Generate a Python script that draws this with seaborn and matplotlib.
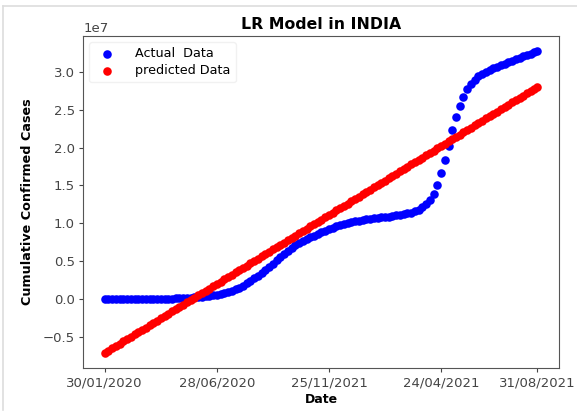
import matplotlib
matplotlib.use("Agg")
import matplotlib.pyplot as plt
import seaborn as sns
import pandas as pd
from matplotlib.lines import Line2D

# Day index since 30/01/2020 (sampled every 5 days, last = 31/08/2021)
days = list(range(0, 576, 5)) + [579]

# Actual cumulative confirmed cases (units of 1e7)
actual = [
    0.0, 0.0, 0.0, 0.0, 0.0, 0.0, 0.0, 0.0, 0.0001, 0.0001,
    0.0002, 0.0003, 0.0004, 0.0005, 0.0006, 0.0008, 0.0012, 0.0020, 0.0032, 0.0047,
    0.0062, 0.0082, 0.0106, 0.0137, 0.0173, 0.0212, 0.0257, 0.0313, 0.0381, 0.0456,
    0.0549, 0.0642, 0.0743, 0.0878, 0.1039, 0.1238, 0.1483, 0.1750, 0.2027, 0.2330,
    0.2702, 0.3045, 0.3388, 0.3770, 0.4204, 0.4660, 0.5120, 0.5560, 0.5990, 0.6390,
    0.6760, 0.7080, 0.7370, 0.7650, 0.7910, 0.8140, 0.8360, 0.8590, 0.8820, 0.9030,
    0.9220, 0.9420, 0.9610, 0.9770, 0.9910, 1.0040, 1.0150, 1.0250, 1.0340, 1.0430,
    1.0510, 1.0580, 1.0650, 1.0720, 1.0780, 1.0830, 1.0890, 1.0960, 1.1030, 1.1110,
    1.1210, 1.1300, 1.1410, 1.1580, 1.1790, 1.2100, 1.2490, 1.3060, 1.3870, 1.5060,
    1.6610, 1.8380, 2.0280, 2.2300, 2.4050, 2.5500, 2.6700, 2.7700, 2.8400, 2.9000,
    2.9440, 2.9770, 3.0030, 3.0270, 3.0500, 3.0700, 3.0900, 3.1100, 3.1300, 3.1500,
    3.1700, 3.1900, 3.2100, 3.2250, 3.2400, 3.2600, 3.2800,
]

# Linear regression predictions (units of 1e7)
predicted = [
    -0.715, -0.685, -0.654, -0.624, -0.593, -0.563, -0.533, -0.502, -0.472, -0.441,
    -0.411, -0.381, -0.350, -0.320, -0.289, -0.259, -0.229, -0.198, -0.168, -0.137,
    -0.107, -0.077, -0.046, -0.016, 0.015, 0.045, 0.075, 0.106, 0.136, 0.167,
    0.197, 0.227, 0.258, 0.288, 0.319, 0.349, 0.379, 0.410, 0.440, 0.471,
    0.501, 0.531, 0.562, 0.592, 0.623, 0.653, 0.683, 0.714, 0.744, 0.775,
    0.805, 0.835, 0.866, 0.896, 0.927, 0.957, 0.987, 1.018, 1.048, 1.079,
    1.109, 1.139, 1.170, 1.200, 1.231, 1.261, 1.291, 1.322, 1.352, 1.383,
    1.413, 1.443, 1.474, 1.504, 1.535, 1.565, 1.595, 1.626, 1.656, 1.687,
    1.717, 1.747, 1.778, 1.808, 1.839, 1.869, 1.899, 1.930, 1.960, 1.991,
    2.021, 2.051, 2.082, 2.112, 2.143, 2.173, 2.203, 2.234, 2.264, 2.295,
    2.325, 2.355, 2.386, 2.416, 2.447, 2.477, 2.507, 2.538, 2.568, 2.599,
    2.629, 2.659, 2.690, 2.720, 2.751, 2.781, 2.805,
]

tick_days = [0, 150, 300, 450, 579]
tick_labels = ["30/01/2020", "28/06/2020", "25/11/2021", "24/04/2021", "31/08/2021"]

df_a = pd.DataFrame({"day": days, "cases": [v * 1e7 for v in actual]})
df_p = pd.DataFrame({"day": days, "cases": [v * 1e7 for v in predicted]})

plt.rcParams["font.family"] = ["DejaVu Sans"]
fig = plt.figure(figsize=(5.77, 4.12), dpi=100)
ax = fig.add_axes([0.144, 0.107, 0.825, 0.806])

sns.scatterplot(data=df_a, x="day", y="cases", color="blue", s=38, linewidth=0,
                label="Actual  Data", ax=ax)
sns.scatterplot(data=df_p, x="day", y="cases", color="red", s=38, linewidth=0,
                label="predicted Data", ax=ax)

ax.set_xticks(tick_days)
ax.set_xticklabels(tick_labels)
ax.tick_params(labelsize=9.5, colors="#444444", length=3, pad=3)
ax.yaxis.get_offset_text().set_fontsize(9.5)
ax.yaxis.get_offset_text().set_color("#444444")
for sp in ax.spines.values():
    sp.set_color("#555555")

ax.set_title("LR Model in INDIA", fontsize=11.3, fontweight="bold", pad=5)
ax.set_xlabel("Date", fontsize=9, fontweight="bold", labelpad=3)
ax.set_ylabel("Cumulative Confirmed Cases", fontsize=9.2, fontweight="bold", labelpad=6)
leg = ax.legend(loc="upper left", fontsize=9.2, frameon=True, borderaxespad=0.5,
                handletextpad=1.2, labelspacing=0.3)
leg.get_frame().set_edgecolor("#eeeeee")

# light screenshot border
fig.add_artist(Line2D([3 / 577, 3 / 577], [2 / 412, 406 / 412], color="#dddddd", lw=1.2,
                      transform=fig.transFigure))
fig.add_artist(Line2D([3 / 577, 1.0], [406 / 412, 406 / 412], color="#dddddd", lw=1.2,
                      transform=fig.transFigure))

fig.savefig("out.png", dpi=100, facecolor="white")
